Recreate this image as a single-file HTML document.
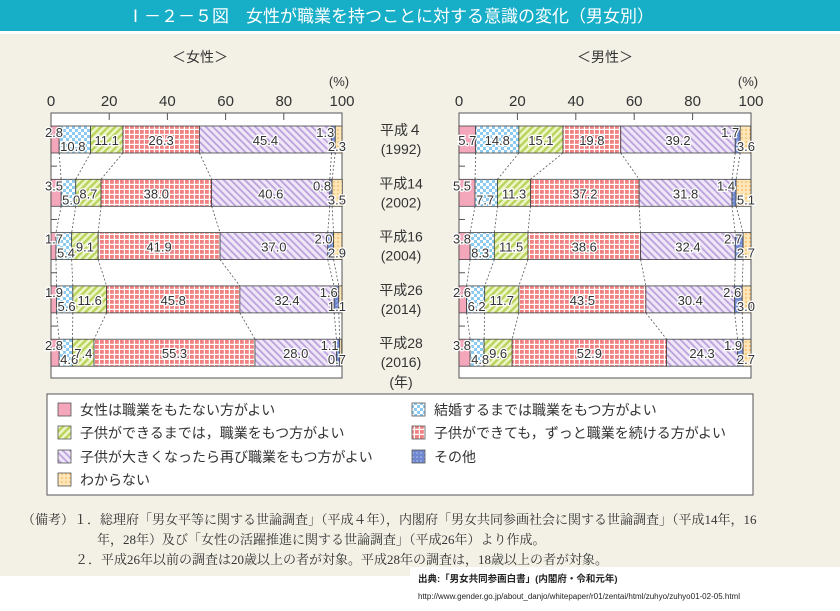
<!DOCTYPE html>
<html><head><meta charset="utf-8">
<style>
html,body{margin:0;padding:0;background:#fff;}
svg{display:block;font-family:"Liberation Sans","Noto Sans CJK JP",sans-serif;}
</style></head>
<body>
<svg id="chart" width="840" height="611" viewBox="0 0 840 611" xmlns="http://www.w3.org/2000/svg">
<defs>
<pattern id="p-blue" width="6" height="6" patternUnits="userSpaceOnUse"><rect width="6" height="6" fill="#fff"/><rect width="3" height="3" fill="#8ccbef"/><rect x="3" y="3" width="3" height="3" fill="#8ccbef"/></pattern>
<pattern id="p-green" width="5" height="5" patternUnits="userSpaceOnUse" patternTransform="rotate(45)"><rect width="5" height="5" fill="#eef5c8"/><rect width="2.4" height="5" fill="#b9d45c"/></pattern>
<pattern id="p-red" width="5" height="5" patternUnits="userSpaceOnUse"><rect width="5" height="5" fill="#fff"/><rect width="3.8" height="3.8" fill="#f08282"/></pattern>
<pattern id="p-purple" width="5" height="5" patternUnits="userSpaceOnUse" patternTransform="rotate(-45)"><rect width="5" height="5" fill="#efe6f7"/><rect width="1.8" height="5" fill="#bba2dc"/></pattern>
<pattern id="p-other" width="4" height="4" patternUnits="userSpaceOnUse"><rect width="4" height="4" fill="#6f88d0"/><rect width="2" height="2" fill="#8fa3de"/></pattern>
<pattern id="p-dk" width="4" height="4" patternUnits="userSpaceOnUse"><rect width="4" height="4" fill="#fde6b8"/><circle cx="2" cy="2" r="0.9" fill="#f4b860"/></pattern>
</defs>
<rect x="0" y="0" width="840" height="611" fill="#fff"/>
<rect x="0" y="34" width="840" height="542" fill="#f3f0e6"/>
<rect x="0" y="0" width="840" height="31" fill="#17aec8"/>
<text x="127" y="22" fill="#fff" font-size="17">Ⅰ－２－５図　女性が職業を持つことに対する意識の変化（男女別）</text>
<text x="200" y="62" font-size="14" text-anchor="middle" fill="#333">＜女性＞</text>
<text x="605" y="62" font-size="14" text-anchor="middle" fill="#333">＜男性＞</text>
<g id="plots"></g>
<g id="years"></g>
<rect x="47" y="394" width="706" height="101" fill="#fff" stroke="#555" stroke-width="1"/>
<g id="legend"></g>
<g font-family="'Liberation Serif','Noto Serif CJK JP',serif" font-size="13" fill="#333">
<text x="22" y="524">（備考）１．総理府「男女平等に関する世論調査」（平成４年），内閣府「男女共同参画社会に関する世論調査」（平成14年，16</text>
<text x="97" y="544">年，28年）及び「女性の活躍推進に関する世論調査」（平成26年）より作成。</text>
<text x="75" y="564">２．平成26年以前の調査は20歳以上の者が対象。平成28年の調査は，18歳以上の者が対象。</text>
</g>
<rect x="410" y="567" width="430" height="44" fill="#fff"/>
<text x="418" y="582" font-size="9.5" font-weight="bold" fill="#222">出典:「男女共同参画白書」(内閣府・令和元年)</text>
<text x="418" y="599" font-size="8" fill="#222">http://www.gender.go.jp/about_danjo/whitepaper/r01/zentai/html/zuhyo/zuhyo01-02-05.html</text>
</svg>
<script>
const years = [["平成４","(1992)"],["平成14","(2002)"],["平成16","(2004)"],["平成26","(2014)"],["平成28","(2016)"]];
const categories = ["女性は職業をもたない方がよい","結婚するまでは職業をもつ方がよい","子供ができるまでは，職業をもつ方がよい","子供ができても，ずっと職業を続ける方がよい","子供が大きくなったら再び職業をもつ方がよい","その他","わからない"];
const femaleValues = [
 [2.8,10.8,11.1,26.3,45.4,1.3,2.3],
 [3.5,5.0,8.7,38.0,40.6,0.8,3.5],
 [1.7,5.4,9.1,41.9,37.0,2.0,2.9],
 [1.9,5.6,11.6,45.8,32.4,1.6,1.1],
 [2.8,4.6,7.4,55.3,28.0,1.1,0.7]];
const maleValues = [
 [5.7,14.8,15.1,19.8,39.2,1.7,3.6],
 [5.5,7.7,11.3,37.2,31.8,1.4,5.1],
 [3.8,8.3,11.5,38.6,32.4,2.7,2.7],
 [2.6,6.2,11.7,43.5,30.4,2.6,3.0],
 [3.8,4.8,9.6,52.9,24.3,1.9,2.7]];
const ticks = [0,20,40,60,80,100];

const NS="http://www.w3.org/2000/svg";
const fills=["#f4a6bb","url(#p-blue)","url(#p-green)","url(#p-red)","url(#p-purple)","url(#p-other)","url(#p-dk)"];
function mk(tag,attrs,parent,txt){const e=document.createElementNS(NS,tag);for(const k in attrs)e.setAttribute(k,attrs[k]);if(txt!==undefined)e.textContent=txt;parent.appendChild(e);return e;}
const rowY=i=>126+i*53.3, BH=27;

function drawPlot(x0,x1,values,name){
  const sx=v=>x0+(x1-x0)*v/100;
  const g=mk("g",{},document.getElementById("plots"));
  
  
  const fr=mk("rect",{x:x0,y:113,width:x1-x0,height:265,fill:"#fff",stroke:"#555","stroke-width":1},g);
  
  
  ticks.forEach(t=>{
    const tl=mk("text",{x:sx(t),y:106,"font-size":15,"text-anchor":"middle",fill:"#333"},g,String(t));
    
    
    if(t>0&&t<100){const tk=mk("line",{x1:sx(t),x2:sx(t),y1:113,y2:120,stroke:"#555"},g);
    
    }
  });
  const pc=mk("text",{x:x1-3,y:86,"font-size":13,"text-anchor":"middle",fill:"#333"},g,"(%)");
  
  
  for(let i=0;i<4;i++){const y=(rowY(i)+BH+rowY(i+1))/2;const tk=mk("line",{x1:x0,x2:x0+6,y1:y,y2:y,stroke:"#555"},g);
    
    }
  for(let i=0;i<values.length-1;i++){
    let a=0,b=0;
    for(let k=0;k<6;k++){a+=values[i][k];b+=values[i+1][k];
      const ln=mk("line",{x1:sx(a),y1:rowY(i)+BH,x2:sx(b),y2:rowY(i+1),stroke:"#555","stroke-dasharray":"2,2","stroke-width":0.8},g);
      
      }
  }
  values.forEach((row,i)=>{
    let c=0;const y=rowY(i);
    row.forEach((v,k)=>{
      const r=mk("rect",{x:sx(c),y:y,width:sx(c+v)-sx(c),height:BH,fill:fills[k],stroke:"#444","stroke-width":0.8},g);
      
      
      c+=v;
    });
  });
  values.forEach((row,i)=>{
    let c=0;const y=rowY(i);
    row.forEach((v,k)=>{
      let tx=(sx(c)+sx(c+v))/2, ty=y+19, anc="middle";
      if(k===0&&v<5.6){ty=y+11;tx=x0+3;}
      else if(k===1&&v<11){ty=y+25;tx=sx(c)+1;anc="start";}
      else if(k===5){ty=y+11;tx=sx(c+v)-1;anc="end";}
      else if(k===6){ty=y+25;tx=x1+4;anc="end";}
      const lb=mk("text",{x:tx,y:ty,"font-size":13,"text-anchor":anc,fill:"#333",stroke:"#fff","stroke-width":2.5,"paint-order":"stroke"},g,v.toFixed(1));
      
      
      c+=v;
    });
  });
}
drawPlot(51,342,femaleValues,"female");
drawPlot(459,751,maleValues,"male");

const yg=document.getElementById("years");
years.forEach((yr,i)=>{
  const y=rowY(i);
  const t1=mk("text",{x:401,y:y+9,"font-size":14,"text-anchor":"middle",fill:"#333"},yg,yr[0]);
  
  
  const t2=mk("text",{x:401,y:y+28,"font-size":14,"text-anchor":"middle",fill:"#333"},yg,yr[1]);
  
  
});
const yu=mk("text",{x:401,y:387,"font-size":14,"text-anchor":"middle",fill:"#333"},yg,"(年)");



const lg=document.getElementById("legend");
const pos=[[58,410],[412,410],[58,433],[412,433],[58,457],[412,457],[58,480]];
categories.forEach((c,k)=>{
  const [x,y]=pos[k];
  const e=mk("g",{},lg);
  
  
  mk("rect",{x:x,y:y-7,width:13,height:13,fill:fills[k],stroke:"#555","stroke-width":0.8},e);
  mk("text",{x:x+22,y:y+5,"font-size":14,fill:"#333"},e,c);
});
</script>
</body></html>
